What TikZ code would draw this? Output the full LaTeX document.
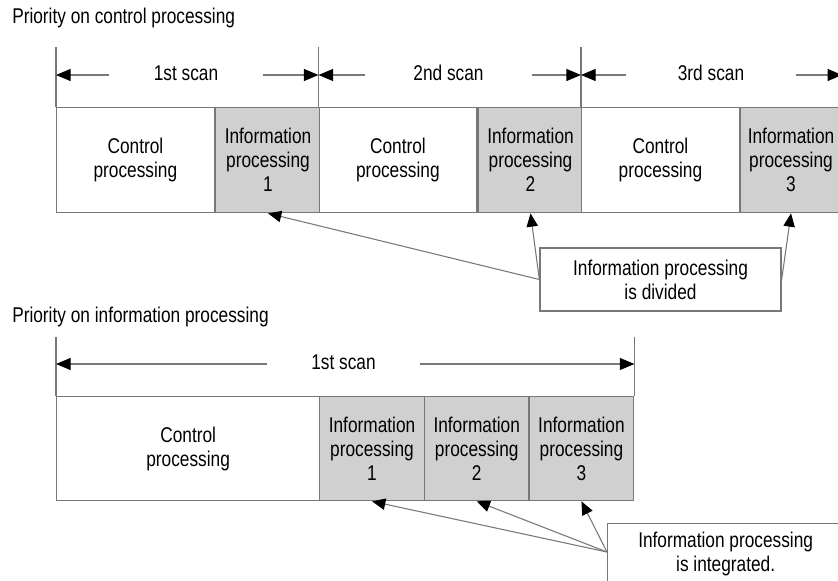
\documentclass[tikz,border=0pt]{standalone}
\usepackage{fontspec}
\setmainfont{Liberation Sans}[FakeStretch=0.81]
\usetikzlibrary{arrows.meta,positioning,calc}

\definecolor{linegray}{RGB}{120,120,120}
\definecolor{infogray}{RGB}{208,208,208}
\newcommand{\pxu}{0.75pt}

\tikzset{
  lbl/.style={font=\fontsize{16}{18}\selectfont,inner sep=0pt},
  ctrlbox/.style={lbl,draw=linegray,line width=1pt,fill=white,align=center,anchor=north west,minimum height=105*\pxu},
  infobox/.style={ctrlbox,fill=infogray},
  callbox/.style={lbl,draw=linegray,line width=1pt,fill=white,align=center},
  tickline/.style={draw=linegray,line width=1pt},
  dimarrow/.style={draw=linegray,line width=1pt,-{Triangle[length=11pt,width=9pt,color=black]}},
  callarrow/.style={dimarrow,line width=0.8pt,-{Triangle[length=10pt,width=8.5pt,color=black]}}
}

\begin{document}
\begin{tikzpicture}[x=0.75pt,y=-0.75pt]
  \useasboundingbox (0,0) rectangle (838,581);
  % Priority on control processing
  \node[lbl,anchor=west] (titleA) at (12,18) {Priority on control processing};
  \foreach \s/\x/\w/\lab/\gap in {1/56/105/1st/153,2/318.5/105/2nd/167,3/581/101/3rd/169} {
    \node[ctrlbox,minimum width=157.5*\pxu] (ctrl\s) at (\x,107) {Control\\processing};
    \node[infobox,minimum width=\w*\pxu] (info\s) at (ctrl\s.north east) {Information\\processing\\\s};
    \coordinate (top\s) at (\x,47);
    \coordinate (tick\s) at (\x,75);
    \node[lbl,minimum width=\gap*\pxu] (scan\s) at (\x+130,73) {\lab\ scan};
    \draw[tickline] (top\s) -- (ctrl\s.north west);
  }
  \coordinate (top4) at (info3.north east |- top1);
  \coordinate (tick4) at (info3.north east |- tick1);
  \draw[tickline] (top4) -- (info3.north east);
  % scan arrows
  \foreach \s in {1,2,3} {
    \draw[dimarrow] (scan\s.west |- tick1) -- (tick\s);
    \draw[dimarrow] (scan\s.east |- tick1) -- (tick\the\numexpr\s+1\relax);
  }
  \node[callbox,minimum width=241*\pxu,minimum height=63*\pxu] (callA) at (660.5,279.5) {Information processing\\is divided};
  \draw[callarrow] (callA.west) -- (info1.south);
  \draw[callarrow] (callA.west) -- (info2.south);
  \draw[callarrow] (callA.east) -- (info3.south);

  % Priority on information processing
  \node[lbl,anchor=west] (titleB) at (12,317) {Priority on information processing};
  \node[ctrlbox,minimum width=263*\pxu,minimum height=104*\pxu] (ctrlB) at (56,396) {Control\\processing};
  \foreach \i in {1,2,3}
    \node[infobox,minimum width=104.7*\pxu,minimum height=104*\pxu] (infoB\i) at ({319+(\i-1)*104.7},396) {Information\\processing\\\i};
  \coordinate (topBl) at (56,337);
  \coordinate (topBr) at (infoB3.north east |- topBl);
  \draw[tickline] (topBl) -- (ctrlB.north west);
  \draw[tickline] (topBr) -- (infoB3.north east);
  \node[lbl,minimum width=153*\pxu] (scanB) at (343.5,362) {1st scan};
  \coordinate (tickBl) at (56,364);
  \coordinate (tickBr) at (topBr |- tickBl);
  \draw[dimarrow] (scanB.west |- tickBl) -- (tickBl);
  \draw[dimarrow] (scanB.east |- tickBl) -- (tickBr);
  \node[callbox,anchor=north west,minimum width=236*\pxu,inner ysep=6pt,text depth=40pt] (callB) at (607,523) {Information processing\\is integrated.};
  \coordinate (callBin) at ($(callB.north west)+(0,29)$);
  \foreach \i in {1,2,3}
    \draw[callarrow] (callBin) -- (infoB\i.south);
\end{tikzpicture}
\end{document}
